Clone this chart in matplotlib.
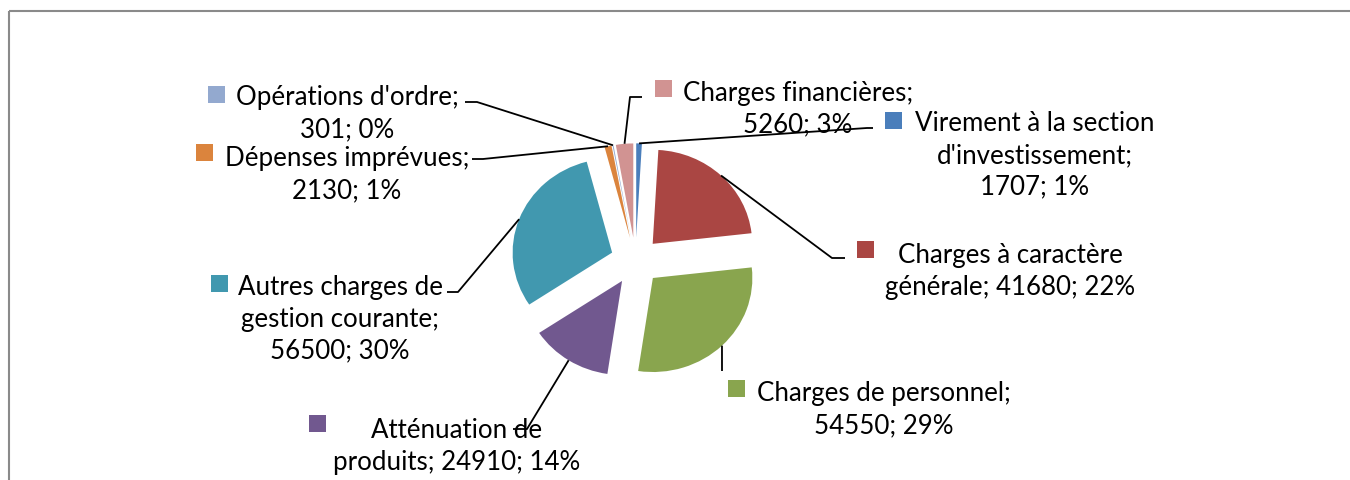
import matplotlib
matplotlib.use("Agg")
import matplotlib.pyplot as plt
from matplotlib.patches import Rectangle
import numpy as np

# data, in Excel order (clockwise from 12 o'clock)
categories = ["Virement à la section\nd'investissement", "Charges à caractère\ngénérale",
              "Charges de personnel", "Atténuation de\nproduits",
              "Autres charges de\ngestion courante", "Dépenses imprévues",
              "Opérations d'ordre", "Charges financières"]
values = [1707, 41680, 54550, 24910, 56500, 2130, 301, 5260]
percents = [1, 22, 29, 14, 30, 1, 0, 3]
value_on_new_line = [True, False, True, False, True, True, True, True]
colors = ["#4A7EBB", "#AA4643", "#89A54E", "#71588F", "#4198AF", "#DB843D", "#93A9CF", "#D19392"]

# label layout in pixels: (text centre x, first line centre y), key square centre, leader elbow points
label_pos = [(1035, 123), (1010, 255), (884, 393), (457, 430),
             (340, 287), (347, 158), (347, 97), (798, 92)]
key_pos = [(893, 121), (865, 250), (736, 389), (317, 424),
           (219, 284), (204, 153), (216, 95), (663, 89)]
leader_pts = [[(867, 129), (873, 129)], [(832, 259), (845, 259)], [(722, 372)],
              [(527, 430), (513, 430)], [(458, 293), (447, 293)],
              [(483, 160), (472, 160)], [(477, 103), (465, 103)], [(630, 98), (642, 98)]]

W, H = 1350, 481
SQUASH = 0.945   # pie is drawn a little flatter than round
PIE_CX, PIE_CY = 635.5, 262
RADIUS = 99.5
EXPLODE = 25
LINE_H = 31.5

plt.rcParams['font.family'] = ['Lato', 'DejaVu Sans']

fig = plt.figure(figsize=(W / 100, H / 100), dpi=100)
fig.patch.set_facecolor("white")

pax = fig.add_axes([0, 0, 1, 1])
wedges, _ = pax.pie(values, colors=colors, startangle=90, counterclock=False,
                    radius=RADIUS, center=(PIE_CX, (H - PIE_CY) / SQUASH),
                    explode=[EXPLODE] * len(values), wedgeprops=dict(linewidth=0))
pax.set_xlim(0, W)
pax.set_ylim(0, H / SQUASH)
pax.set_aspect('auto')
pax.axis('off')

ax = fig.add_axes([0, 0, 1, 1])
ax.set_xlim(0, W)
ax.set_ylim(H, 0)
ax.patch.set_alpha(0)
ax.axis('off')

# chart area frame
ax.add_patch(Rectangle((9, 12), 1400, 500, fill=False, ec="#8a8a8a", lw=1.5))

to_px = pax.transData + ax.transData.inverted()

for i, w in enumerate(wedges):
    # leader line from the middle of the slice's arc
    tm = np.deg2rad((w.theta1 + w.theta2) / 2)
    start = (w.center[0] + w.r * np.cos(tm), w.center[1] + w.r * np.sin(tm))
    sx, sy = to_px.transform(start)
    pts = [(sx, sy)] + leader_pts[i]
    ax.plot([p[0] for p in pts], [p[1] for p in pts], color="black", lw=1.3,
            solid_capstyle="butt")

    sep = "\n" if value_on_new_line[i] else " "
    txt = f"{categories[i]};{sep}{values[i]}; {percents[i]}%"
    cx, cy = label_pos[i]
    for j, line in enumerate(txt.split("\n")):
        ax.text(cx, cy + j * LINE_H + 8.5, line, ha="center", va="baseline",
                fontsize=18.6, color="black")

    kx, ky = key_pos[i]
    ax.add_patch(Rectangle((kx - 8.5, ky - 8.5), 17, 17, color=colors[i], lw=0))

fig.savefig("out.png", dpi=100, facecolor="white")
